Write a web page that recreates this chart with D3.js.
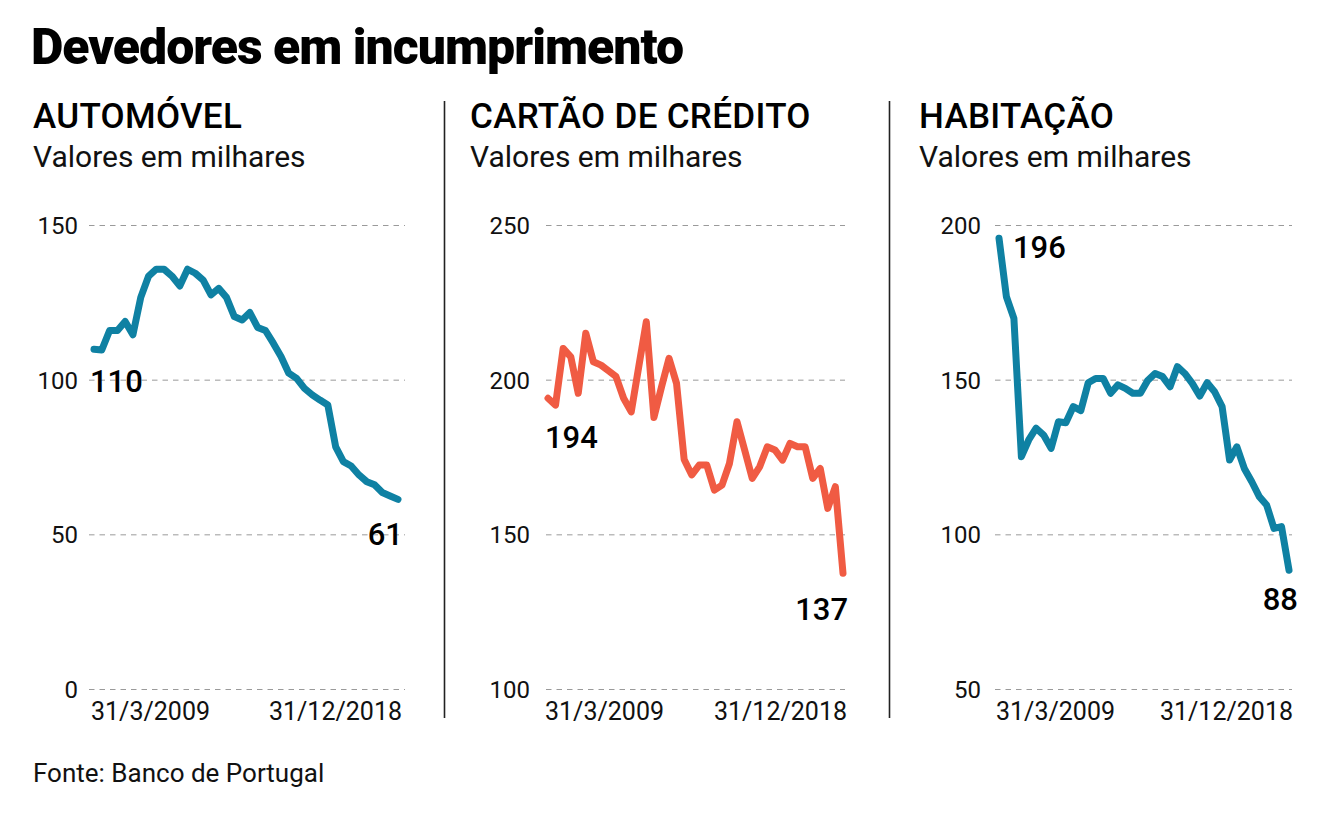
<!DOCTYPE html>
<html>
<head>
<meta charset="utf-8">
<script src="https://cdn.jsdelivr.net/npm/d3@7"></script>
<style>
  html, body { margin: 0; padding: 0; background: #fff; }
  svg { display: block; font-family: Roboto, "Noto Sans", sans-serif; }
</style>
</head>
<body>
<svg id="chart" width="1334" height="817"></svg>
<script>
// ---------- DATA (quarterly, thousands) ----------
const dateLabels = ["31/3/2009", "31/12/2018"];

const automovel = [109.8, 109.6, 115.9, 115.9, 118.8, 114.5, 126.6, 133.5, 135.7, 135.7,
                   133.5, 130.3, 135.7, 134.4, 132.2, 127.4, 129.5, 126.6, 120.4, 119.3,
                   121.7, 116.9, 115.9, 111.8, 107.5, 102.1, 100.4, 97.2, 95.1, 93.4,
                   91.8, 78.3, 73.5, 72.1, 69.2, 67.0, 66.0, 63.5, 62.4, 61.3];

const cartao = [194.0, 191.8, 210.1, 207.4, 195.6, 215.0, 205.8, 204.7, 202.9, 201.0,
                194.0, 189.6, 204.2, 218.7, 187.8, 197.7, 206.9, 198.8, 174.2, 169.2,
                172.4, 172.4, 164.3, 165.9, 172.9, 186.4, 177.3, 168.1, 171.9, 178.3,
                177.3, 174.0, 179.4, 178.3, 178.3, 168.1, 171.3, 158.4, 165.4, 137.4];

const habitacao = [195.7, 176.8, 169.8, 125.1, 130.5, 134.3, 132.1, 127.8, 136.4, 136.1,
                   141.3, 140.0, 149.0, 150.4, 150.4, 145.6, 148.3, 147.2, 145.6, 145.6,
                   149.7, 152.0, 151.0, 147.7, 154.2, 152.0, 148.8, 144.7, 149.0, 146.1,
                   141.3, 124.0, 128.3, 121.3, 117.0, 112.2, 109.5, 101.9, 102.5, 88.4];

const titles = ["AUTOMÓVEL", "CARTÃO DE CRÉDITO", "HABITAÇÃO"];
const subtitle = "Valores em milhares";
const ticksAuto = [0, 50, 100, 150];
const ticksCartao = [100, 150, 200, 250];
const ticksHab = [50, 100, 150, 200];
const mainTitle = "Devedores em incumprimento";
const source = "Fonte: Banco de Portugal";

// ---------- LAYOUT ----------
const svg = d3.select("#chart");
const blue = "#0f81a3", red = "#f05b43";
const yTop = 225, yBottom = 689;

// quarter-end dates, 31/3/2009 ... 31/12/2018 (one per value)
const quarterDates = automovel.map((_, i) => new Date(2009, 3 + 3 * i, 0));

const panels = [
  { title: titles[0], data: automovel, ticks: ticksAuto, color: blue,
    tx: 33, x0: 94, x1: 398, gl: 89, gr: 405, labelRight: 78,
    first: { dx: -4, dy: 43, anchor: "start" }, last: { dx: 5, dy: 46, anchor: "end" } },
  { title: titles[1], data: cartao, ticks: ticksCartao, color: red,
    tx: 470, x0: 548, x1: 843, gl: 546, gr: 845, labelRight: 530,
    first: { dx: -3, dy: 50, anchor: "start" }, last: { dx: 5, dy: 47, anchor: "end" } },
  { title: titles[2], data: habitacao, ticks: ticksHab, color: blue,
    tx: 919, x0: 999, x1: 1289, gl: 995, gr: 1292, labelRight: 981,
    first: { dx: 14, dy: 20, anchor: "start" }, last: { dx: 9, dy: 40, anchor: "end" } }
];

// Main title
svg.append("text")
  .attr("x", 31).attr("y", 64)
  .attr("font-size", 50).attr("font-weight", 900)
  .attr("letter-spacing", -1.0)
  .attr("fill", "#000")
  .text(mainTitle);

// Dividers
[444.5, 889.5].forEach(x => {
  svg.append("line").attr("x1", x).attr("x2", x).attr("y1", 101).attr("y2", 718)
    .attr("stroke", "#222").attr("stroke-width", 1.6);
});

panels.forEach(p => {
  const g = svg.append("g");
  const ext = d3.extent(p.ticks);
  const y = d3.scaleLinear().domain(ext).range([yBottom, yTop]);
  const x = d3.scaleTime().domain([quarterDates[0], quarterDates[quarterDates.length - 1]]).range([p.x0, p.x1]);

  g.append("text").attr("x", p.tx).attr("y", 128)
    .attr("font-size", 35).attr("font-weight", 500).attr("fill", "#000")
    .attr("letter-spacing", 0.3)
    .text(p.title);
  g.append("text").attr("x", p.tx).attr("y", 167)
    .attr("font-size", 30).attr("font-weight", 400).attr("fill", "#111")
    .text(subtitle);

  // Y axis with gridlines
  const axis = d3.axisLeft(y).tickValues(p.ticks).tickSize(-(p.gr - p.gl))
    .tickPadding(p.gl - p.labelRight).tickFormat(d3.format("d"));
  const ag = g.append("g").attr("transform", `translate(${p.gl},0)`).call(axis);
  ag.select(".domain").remove();
  ag.selectAll(".tick line").attr("stroke", "#9a9a9a").attr("stroke-width", 1)
    .attr("stroke-dasharray", "5.5,5");
  ag.selectAll(".tick text").attr("font-size", 24).attr("fill", "#111")
    .attr("font-family", "Roboto, sans-serif").attr("dy", "0.36em");

  // X axis labels
  const xg = g.append("g");
  xg.append("text").attr("x", x(quarterDates[0]) - 3).attr("y", 720)
    .attr("font-size", 25).attr("fill", "#111").attr("text-anchor", "start")
    .text(dateLabels[0]);
  xg.append("text").attr("x", x(quarterDates[quarterDates.length - 1]) + 4).attr("y", 720)
    .attr("font-size", 25).attr("fill", "#111").attr("text-anchor", "end")
    .text(dateLabels[1]);

  // Line
  const line = d3.line().x((d, i) => x(quarterDates[i])).y(d => y(d));
  g.append("path").datum(p.data)
    .attr("d", line).attr("fill", "none").attr("stroke", p.color)
    .attr("stroke-width", 7).attr("stroke-linejoin", "round").attr("stroke-linecap", "round");

  // End labels
  const n = p.data.length;
  g.append("text")
    .attr("x", x(quarterDates[0]) + p.first.dx).attr("y", y(p.data[0]) + p.first.dy)
    .attr("text-anchor", p.first.anchor).attr("font-size", 31).attr("font-weight", 500)
    .attr("fill", "#000").text(Math.round(p.data[0]));
  g.append("text")
    .attr("x", x(quarterDates[n - 1]) + p.last.dx).attr("y", y(p.data[n - 1]) + p.last.dy)
    .attr("text-anchor", p.last.anchor).attr("font-size", 31).attr("font-weight", 500)
    .attr("fill", "#000").text(Math.round(p.data[n - 1]));
});

// Source
svg.append("text").attr("x", 33).attr("y", 782)
  .attr("font-size", 26).attr("fill", "#111").text(source);
</script>
</body>
</html>
